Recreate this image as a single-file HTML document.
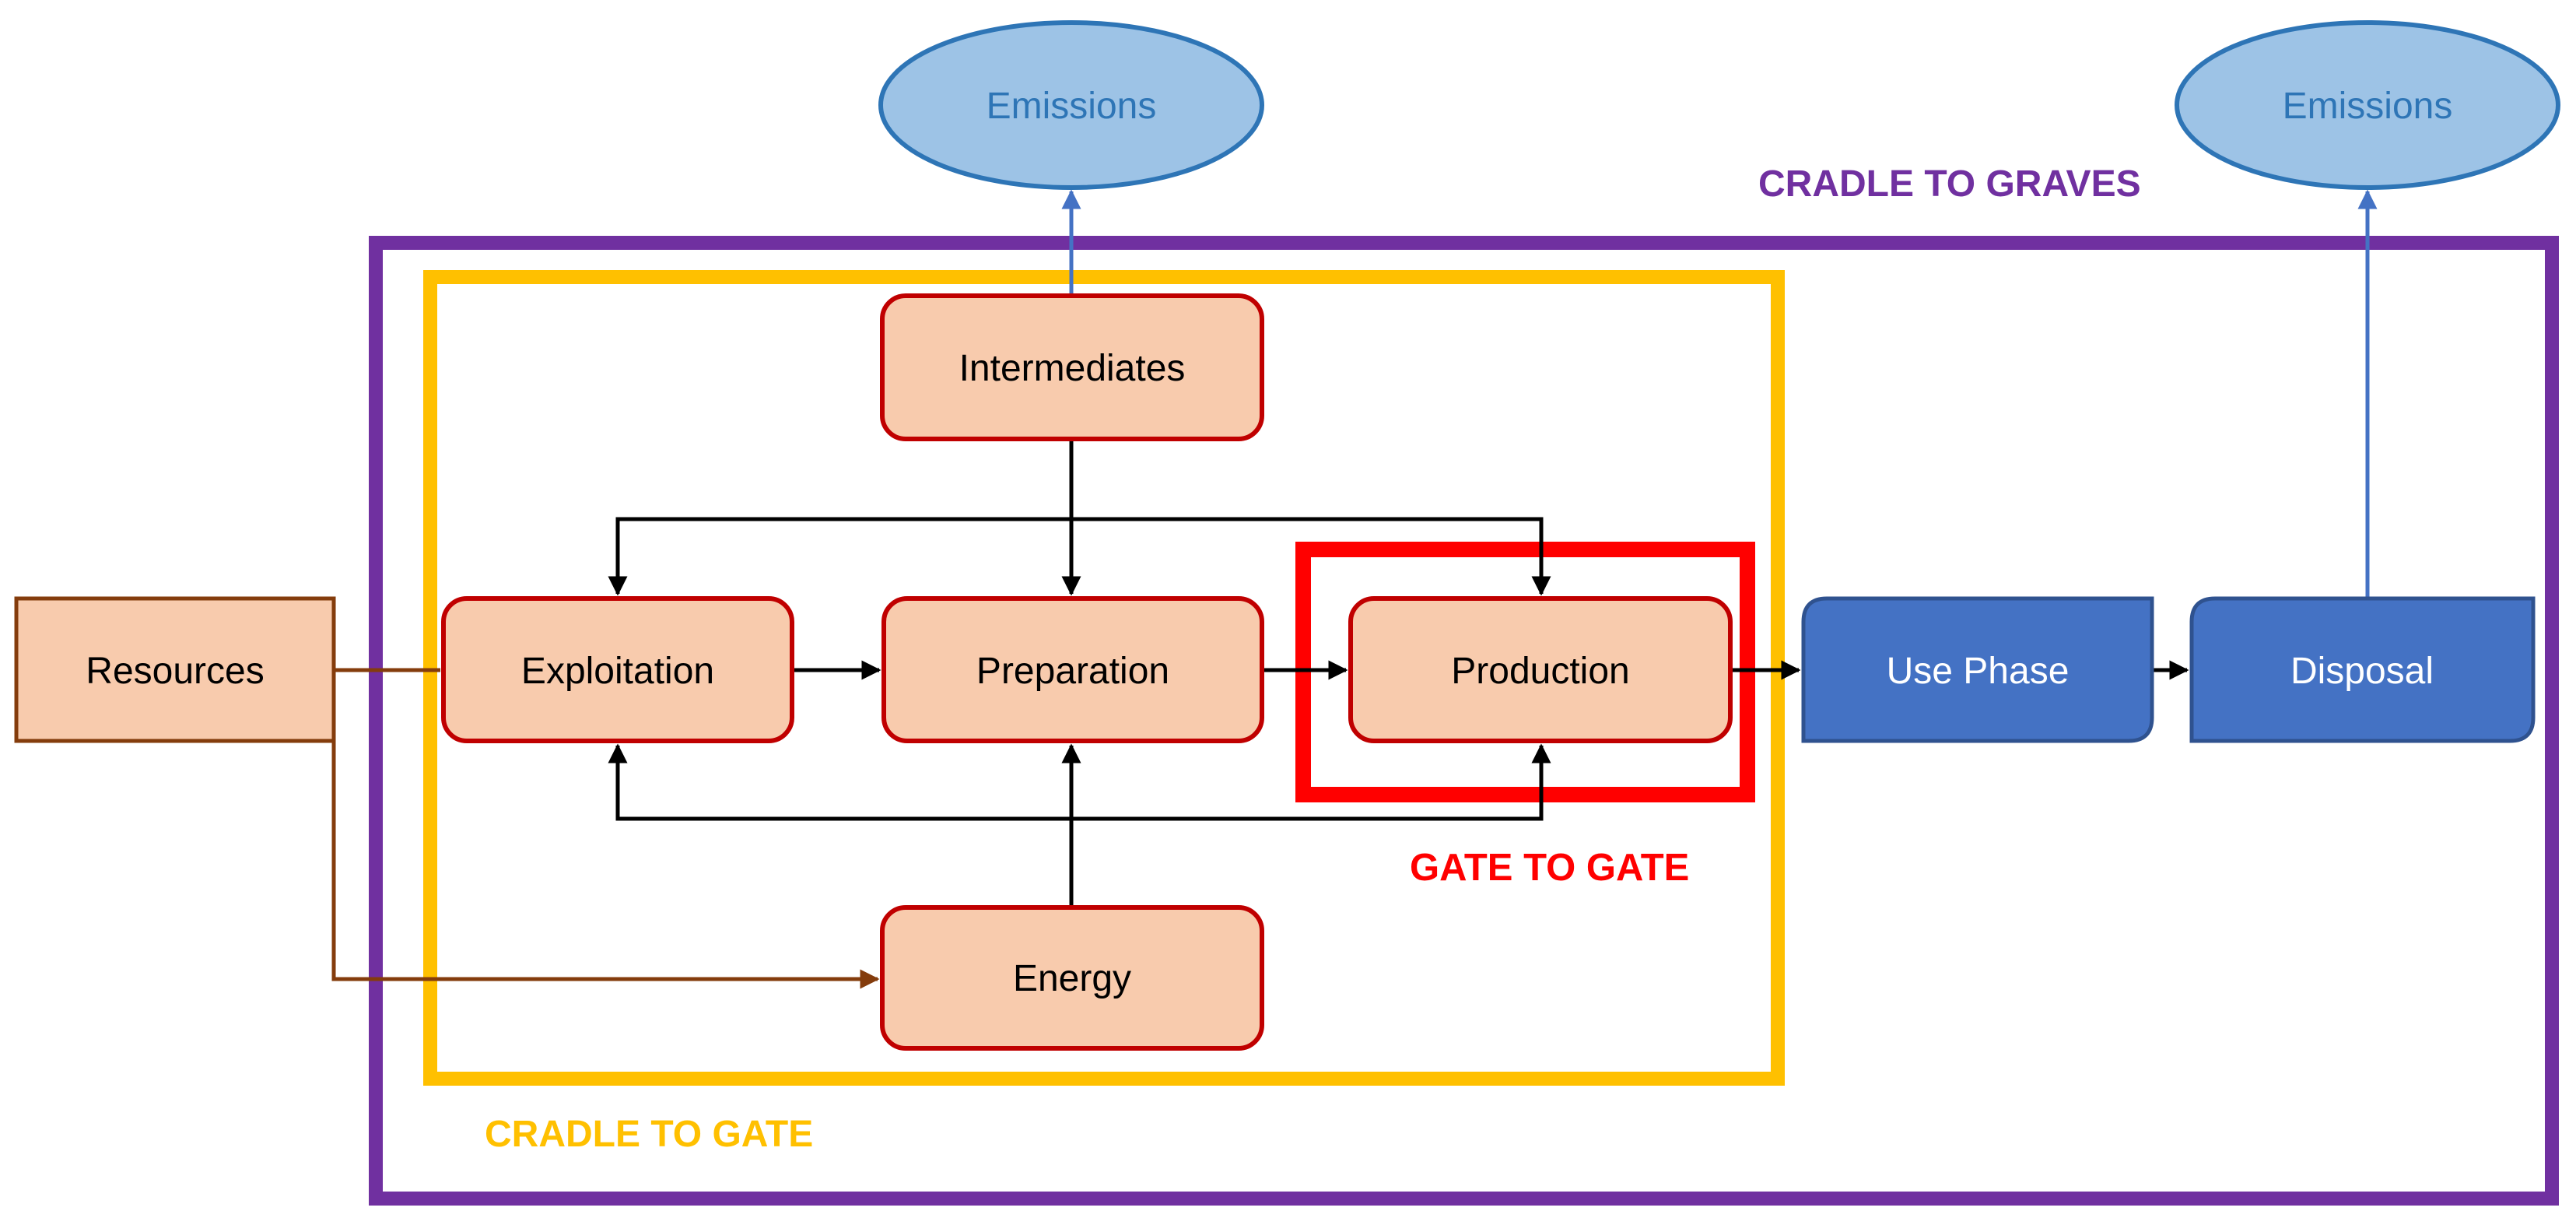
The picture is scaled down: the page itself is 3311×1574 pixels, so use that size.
<!DOCTYPE html>
<html><head><meta charset="utf-8"><style>html,body{margin:0;padding:0;background:#fff}svg{display:block}</style></head>
<body>
<svg width="3311" height="1574" viewBox="0 0 3311 1574" xmlns="http://www.w3.org/2000/svg" font-family="Liberation Sans, sans-serif">
<defs>
<marker id="ak" markerWidth="5" markerHeight="5" refX="4.5" refY="2.5" orient="auto" markerUnits="strokeWidth"><path d="M0,0 L5,2.5 L0,5 z" fill="#000"/></marker>
<marker id="ab" markerWidth="5" markerHeight="5" refX="4.5" refY="2.5" orient="auto" markerUnits="strokeWidth"><path d="M0,0 L5,2.5 L0,5 z" fill="#843C0C"/></marker>
<marker id="au" markerWidth="5" markerHeight="5" refX="4.5" refY="2.5" orient="auto" markerUnits="strokeWidth"><path d="M0,0 L5,2.5 L0,5 z" fill="#4472C4"/></marker>
</defs>
<ellipse cx="1377" cy="135" rx="245" ry="106" fill="#9DC3E6" stroke="#2E75B6" stroke-width="6"/>
<text x="1377" y="152" font-size="48" fill="#2E75B6" text-anchor="middle">Emissions</text>
<ellipse cx="3043" cy="135" rx="245" ry="106" fill="#9DC3E6" stroke="#2E75B6" stroke-width="6"/>
<text x="3043" y="152" font-size="48" fill="#2E75B6" text-anchor="middle">Emissions</text>
<text x="2260" y="252" font-size="48" font-weight="bold" fill="#7030A0">CRADLE TO GRAVES</text>
<rect x="483" y="312" width="2797" height="1228" fill="none" stroke="#7030A0" stroke-width="18"/>
<rect x="553" y="356" width="1732" height="1030" fill="none" stroke="#FFC000" stroke-width="18"/>
<rect x="1675" y="706" width="571" height="315" fill="none" stroke="#FF0000" stroke-width="20"/>
<text x="623" y="1473" font-size="48" font-weight="bold" fill="#FFC000">CRADLE TO GATE</text>
<text x="1812" y="1131" font-size="49" font-weight="bold" fill="#FF0000">GATE TO GATE</text>
<line x1="1377" y1="380" x2="1377" y2="246" stroke="#4472C4" stroke-width="5" marker-end="url(#au)"/>
<line x1="3043" y1="769" x2="3043" y2="246" stroke="#4472C4" stroke-width="5" marker-end="url(#au)"/>
<line x1="429" y1="861" x2="566" y2="861" stroke="#843C0C" stroke-width="5"/>
<polyline points="429,861 429,1258 1128,1258" fill="none" stroke="#843C0C" stroke-width="5" marker-end="url(#ab)"/>
<g stroke="#000" stroke-width="5" fill="none">
<line x1="1018" y1="861" x2="1130" y2="861" marker-end="url(#ak)"/>
<line x1="1622" y1="861" x2="1730" y2="861" marker-end="url(#ak)"/>
<line x1="2224" y1="861" x2="2312" y2="861" marker-end="url(#ak)"/>
<line x1="2766" y1="861" x2="2811" y2="861" marker-end="url(#ak)"/>
<line x1="1377" y1="564" x2="1377" y2="763" marker-end="url(#ak)"/>
<line x1="1377" y1="1166" x2="1377" y2="958" marker-end="url(#ak)"/>
<polyline points="1981,763 1981,667 794,667 794,763" marker-end="url(#ak)"/>
<polyline points="1981,958 1981,1052 794,1052 794,958" marker-end="url(#ak)"/>
<line x1="1981" y1="667" x2="1981" y2="763" marker-end="url(#ak)"/>
<line x1="1981" y1="1052" x2="1981" y2="958" marker-end="url(#ak)"/>
</g>
<rect x="21" y="769" width="408" height="183" fill="#F8CBAD" stroke="#843C0C" stroke-width="5"/>
<text x="225" y="878" font-size="48" text-anchor="middle">Resources</text>
<g fill="#F8CBAD" stroke="#C00000" stroke-width="6">
<rect x="570" y="769" width="448" height="183" rx="30"/>
<rect x="1136" y="769" width="486" height="183" rx="30"/>
<rect x="1736" y="769" width="488" height="183" rx="30"/>
<rect x="1134" y="380" width="488" height="184" rx="30"/>
<rect x="1134" y="1166" width="488" height="181" rx="30"/>
</g>
<g font-size="48" text-anchor="middle" fill="#000">
<text x="794" y="878">Exploitation</text>
<text x="1379" y="878">Preparation</text>
<text x="1980" y="878">Production</text>
<text x="1378" y="489">Intermediates</text>
<text x="1378" y="1273">Energy</text>
</g>
<g fill="#4472C4" stroke="#2F528F" stroke-width="5">
<path d="M2348,769 L2766,769 L2766,922 Q2766,952 2736,952 L2318,952 L2318,799 Q2318,769 2348,769 Z"/>
<path d="M2847,769 L3256,769 L3256,922 Q3256,952 3226,952 L2817,952 L2817,799 Q2817,769 2847,769 Z"/>
</g>
<text x="2542" y="878" font-size="48" text-anchor="middle" fill="#fff">Use Phase</text>
<text x="3036" y="878" font-size="48" text-anchor="middle" fill="#fff">Disposal</text>
</svg>
</body></html>
